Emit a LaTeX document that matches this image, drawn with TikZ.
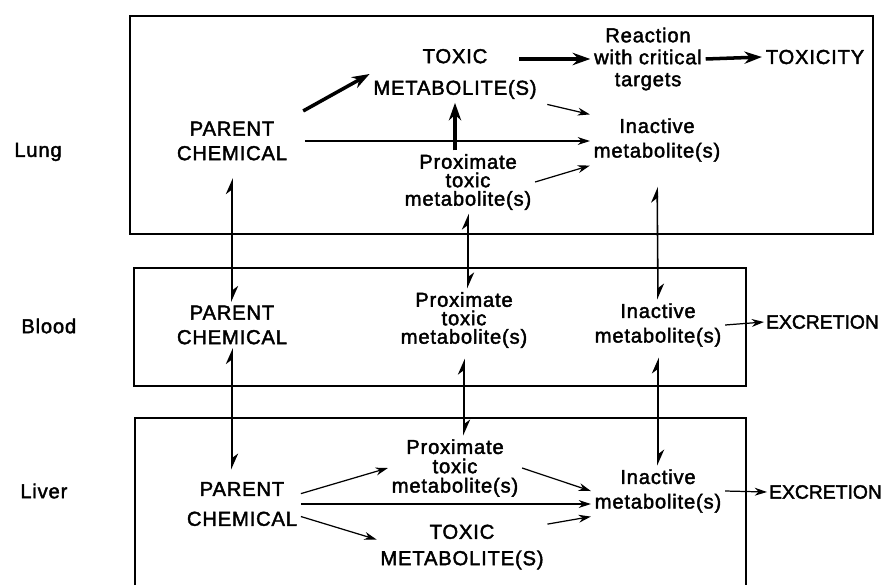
\documentclass[tikz,border=0pt]{standalone}
\usepackage{fontspec}
\setmainfont[LetterSpace=4, FakeBold=2]{Liberation Sans}
\usetikzlibrary{arrows.meta}

\begin{document}
\begin{tikzpicture}[x=0.02cm, y=-0.02cm,
	lbl/.style={align=center, inner sep=2pt, font=\fontsize{11.5}{#1}\selectfont},
	lbl/.default=14,
	organ/.style={anchor=west, inner sep=0pt, font=\fontsize{11.5}{14}\selectfont},
	excr/.style={anchor=west, inner sep=1pt, font=\fontsize{11}{14}\selectfont\addfontfeature{LetterSpace=0}},
	box/.style={line width=0.9pt},
	arr/.style={-{Stealth[length=7pt, width=4.5pt]}, line width=0.7pt},
	bigarr/.style={-{Stealth[length=10pt, width=7pt]}, line width=2pt},
	twoway/.style={{Stealth[harpoon, length=8pt, width=7pt]}-{Stealth[harpoon, length=8pt, width=7pt]}, line width=0.9pt}]

\useasboundingbox (0,0) rectangle (884,585);

\draw[box] (130,16) rectangle (873,234);
\draw[box] (134,268) rectangle (746,386);
\draw[box] (135,585) -- (135,418) -- (746,418) -- (746,585);

\foreach \organ/\x/\y in {Lung/14/152, Blood/21/326, Liver/20/491}
	\node[organ] (\organ) at (\x,\y) {\organ};

\node[lbl] (lungparent) at (232,141) {PARENT\\CHEMICAL};
\node[lbl=18] (lungtoxic) at (455,74) {TOXIC\\METABOLITE(S)};
\node[lbl=12.5] (reaction) at (648,59) {Reaction\\with critical\\targets};
\node[lbl] (toxicity) at (815,57) {TOXICITY};
\node[lbl] (lunginactive) at (657,140) {Inactive\\metabolite(s)};
\node[lbl=10.5] (lungprox) at (468,182) {Proximate\\toxic\\metabolite(s)};

\node[lbl] (bloodparent) at (232,325) {PARENT\\CHEMICAL};
\node[lbl=10.5] (bloodprox) at (464,320) {Proximate\\toxic\\metabolite(s)};
\node[lbl] (bloodinactive) at (658,325) {Inactive\\metabolite(s)};
\node[excr] (bloodexcr) at (764,322) {EXCRETION};

\node[lbl=17] (liverparent) at (242,504) {PARENT\\CHEMICAL};
\node[lbl=11] (liverprox) at (455,468) {Proximate\\toxic\\metabolite(s)};
\node[lbl=15] (livertoxic) at (462,547) {TOXIC\\METABOLITE(S)};
\node[lbl] (liverinactive) at (658,491) {Inactive\\metabolite(s)};
\node[excr] (liverexcr) at (767,492) {EXCRETION};

\draw[bigarr, shorten <=8pt] (lungparent.north east) -- (lungtoxic.west);
\draw[arr, shorten <=8pt] (lungparent.east) -- (lungparent.east -| lunginactive.west);
\draw[bigarr] (lungprox.north -| lungtoxic.south) -- (lungtoxic.south);
\draw[bigarr, shorten <=-12pt] (reaction.west -| lungtoxic.east) -- (reaction.west);
\draw[bigarr] (reaction.east) -- (toxicity.west);
\draw[arr, shorten <=4pt] (lungtoxic.south east) -- (lunginactive.north west);
\draw[arr] (lungprox.east) -- (lunginactive.south west);

\draw[twoway, shorten <=8pt] (lungparent.south) -- (bloodparent.north);
\draw[twoway] (lungprox.south) -- (lungprox.south |- bloodprox.north);
\draw[twoway, shorten <=12pt] (lunginactive.south) -- (bloodinactive.north);
\draw[arr] (bloodinactive.east) -- (bloodexcr.west);

\draw[twoway, shorten >=5pt] (bloodparent.south) -- (bloodparent.south |- liverparent.north);
\draw[twoway, shorten <=4pt] (bloodprox.south) -- (bloodprox.south |- liverprox.north);
\draw[twoway, shorten <=4pt] (bloodinactive.south) -- (liverinactive.north);

\draw[arr] (liverparent.10) -- (liverprox.west);
\draw[arr] (liverparent.east) -- (liverparent.east -| liverinactive.west);
\draw[arr] (liverparent.-12) -- (livertoxic.175);
\draw[arr] (liverprox.east) -- (liverinactive.west);
\draw[arr] (livertoxic.15) -- (liverinactive.south west);
\draw[arr] (liverinactive.east) -- (liverexcr.west);

\end{tikzpicture}
\end{document}
